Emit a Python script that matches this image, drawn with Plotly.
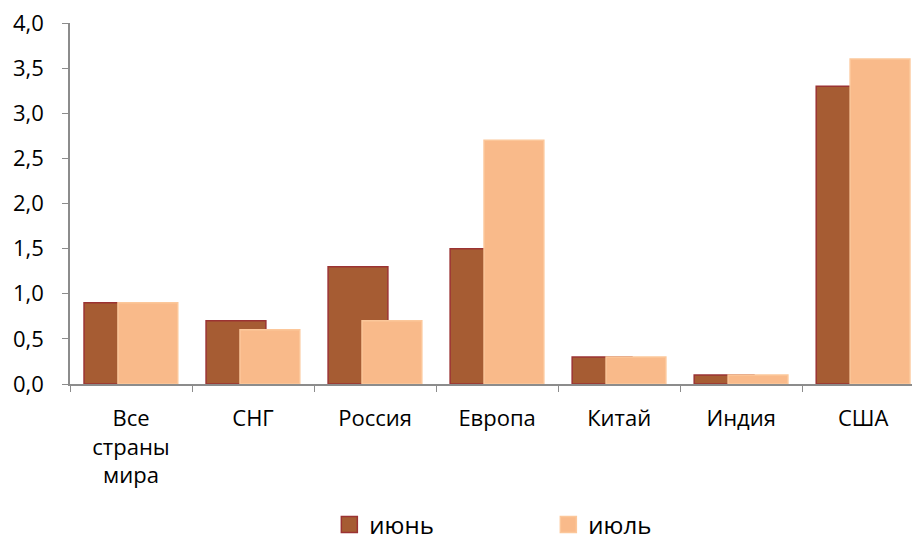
import plotly.graph_objects as go

categories = ["Все<br>страны<br>мира", "СНГ", "Россия", "Европа", "Китай", "Индия", "США"]
june = [0.9, 0.7, 1.3, 1.5, 0.3, 0.1, 3.3]
july = [0.9, 0.6, 0.7, 2.7, 0.3, 0.1, 3.6]
series_names = ["июнь", "июль"]

FONT = "Open Sans"
JUNE_FILL, JUNE_LINE = "#A65C33", "#9B3333"
JULY_FILL, JULY_LINE = "#F9BA8A", "#FCC79A"

fig = go.Figure()
fig.add_trace(go.Bar(
    x=categories, y=june, name=series_names[0], showlegend=False,
    width=0.49, offset=-0.385,
    marker=dict(color=JUNE_FILL, line=dict(color=JUNE_LINE, width=1.5)),
))
fig.add_trace(go.Bar(
    x=categories, y=july, name=series_names[1], showlegend=False,
    width=0.49, offset=-0.107,
    marker=dict(color=JULY_FILL, line=dict(color=JULY_LINE, width=1.5)),
))
# legend entries (larger square swatches)
for name, fill, line in [(series_names[0], JUNE_FILL, JUNE_LINE), (series_names[1], JULY_FILL, JULY_LINE)]:
    fig.add_trace(go.Scatter(
        x=[None], y=[None], mode="markers", name=name,
        marker=dict(symbol="square", size=16, color=fill, line=dict(color=line, width=1.5)),
    ))

fig.update_layout(
    width=912, height=542,
    margin=dict(l=70, r=0, t=23, b=158, autoexpand=False),
    barmode="overlay",
    plot_bgcolor="white", paper_bgcolor="white",
    separators=", ",
    font=dict(family=FONT, size=22, color="black"),
    showlegend=True,
    legend=dict(orientation="h", x=0.308, xanchor="left", y=-0.39, yanchor="middle",
                entrywidth=174, entrywidthmode="pixels", itemsizing="trace",
                font=dict(size=24, family=FONT), itemclick=False, itemdoubleclick=False),
    xaxis=dict(type="category", range=[-0.5, 6.40], showline=True, linecolor="#8C8C8C",
               linewidth=1.5, ticks="outside", ticklen=6, tickcolor="#8C8C8C",
               tickson="boundaries", showgrid=False, zeroline=False, automargin=False,
               ticklabelstandoff=14,
               tickfont=dict(size=22, family=FONT), fixedrange=True),
    yaxis=dict(range=[0, 4], dtick=0.5, tickformat=".1f", showline=True,
               linecolor="#8C8C8C", linewidth=1.5, ticks="outside", ticklen=6,
               tickcolor="#8C8C8C", showgrid=False, zeroline=False, automargin=False,
               ticklabelstandoff=14,
               tickfont=dict(size=22, family=FONT), fixedrange=True),
)

fig.write_html("out.html", config={"displayModeBar": False},
               post_script="document.body.style.margin='0';")
